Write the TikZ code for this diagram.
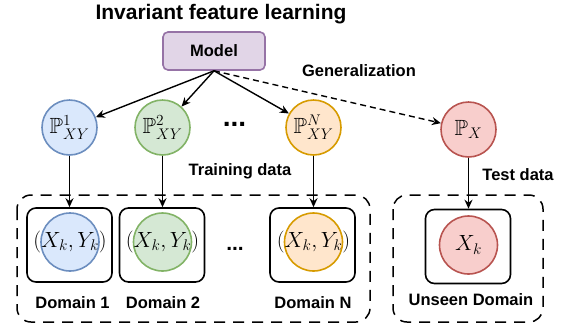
\RequirePackage{fix-cm}
\documentclass[tikz,border=0pt]{standalone}
\usepackage{amssymb}
\usepackage[no-math]{fontspec}
\setmainfont{Liberation Sans}
\usetikzlibrary{arrows.meta}
\definecolor{bluef}{HTML}{DAE8FC}\definecolor{blued}{HTML}{6C8EBF}
\definecolor{greenf}{HTML}{D5E8D4}\definecolor{greend}{HTML}{82B366}
\definecolor{orangef}{HTML}{FFE6CC}\definecolor{oranged}{HTML}{D79B00}
\definecolor{redf}{HTML}{F8CECC}\definecolor{redd}{HTML}{B85450}
\definecolor{purplef}{HTML}{E1D5E7}\definecolor{purpled}{HTML}{9673A6}
\tikzset{
  lbl/.style={font=\fontsize{16.5}{18}\selectfont\bfseries, inner sep=0pt},
  dist/.style={circle, line width=1.6pt, minimum size=55pt, inner sep=0pt, font=\fontsize{22}{26}\selectfont},
  dombox/.style={draw=black, line width=1.6pt, rounded corners=9pt, minimum width=85pt, minimum height=74pt, inner sep=0pt},
  inner/.style={circle, line width=1.6pt, minimum size=58pt, inner sep=0pt},
  mtext/.style={inner sep=0pt, font=\fontsize{22}{26}\selectfont},
  arr/.style={line width=1.4pt, -{Stealth[length=9pt,width=8pt]}},
  bigdash/.style={draw=black, line width=1.5pt, rounded corners=14pt, dash pattern=on 11pt off 8pt},
}
\begin{document}
\begin{tikzpicture}[x=1pt,y=-1pt]
\useasboundingbox (0,0) rectangle (576,325);
% dashed group boxes
\draw[bigdash] (17,195) rectangle (370,322);
\draw[bigdash] (393,195) rectangle (543,322);
% title
\node[lbl, font=\fontsize{21}{24}\selectfont\bfseries] (title) at (221,14) {Invariant feature learning};
% model
\node[draw=purpled, fill=purplef, line width=1.6pt, rounded corners=5pt, minimum width=102pt, minimum height=38pt, inner sep=0pt, font=\fontsize{16.5}{18}\selectfont\bfseries] (model) at (214,51) {Model};
% distributions
\node[dist, draw=blued, fill=bluef] (p1) at (69.5,127.5) {$\mathbb{P}^1_{XY}$};
\node[dist, draw=greend, fill=greenf] (p2) at (162.5,127.5) {$\mathbb{P}^2_{XY}$};
\node[dist, draw=oranged, fill=orangef] (pn) at (313.5,127.5) {$\mathbb{P}^N_{XY}$};
\node[dist, draw=redd, fill=redf] (px) at (468.5,129.5) {$\mathbb{P}_X$};
\node[lbl, font=\fontsize{28}{30}\selectfont\bfseries] (dots1) at (234.5,124) {...};
% domain boxes
\node[dombox] (b1) at (69.5,245) {};
\node[dombox] (b2) at (162,245) {};
\node[dombox] (bn) at (312.5,245) {};
\node[dombox] (bx) at (468,246.5) {};
\node[inner, draw=blued, fill=bluef] (c1) at (70,242) {};
\node[inner, draw=greend, fill=greenf] (c2) at (162.5,242) {};
\node[inner, draw=oranged, fill=orangef] (cn) at (313.5,242) {};
\node[inner, draw=redd, fill=redf] (cx) at (468.5,245) {};
\node[mtext] (t1) at (c1) {$(X_k,Y_k)$};
\node[mtext] (t2) at (c2) {$(X_k,Y_k)$};
\node[mtext] (tn) at (cn) {$(X_k,Y_k)$};
\node[mtext] (tx) at (cx) {$X_k$};
\node[lbl, font=\fontsize{21}{24}\selectfont\bfseries] (dots2) at (235,249) {...};
% labels
\node[lbl] (d1) at (72.5,303) {Domain 1};
\node[lbl] (d2) at (163,303) {Domain 2};
\node[lbl] (dn) at (313,303) {Domain N};
\node[lbl] (dx) at (471,300) {Unseen Domain};
\node[lbl] (gen) at (359,71) {Generalization};
\node[lbl] (train) at (240,171) {Training data};
\node[lbl] (test) at (518,175) {Test data};
% arrows
\draw[arr] (model.south) -- (p1);
\draw[arr] (model.south) -- (p2);
\draw[arr] (model.south) -- (pn);
\draw[arr, dash pattern=on 6pt off 4pt] (model.south) -- (px);
\draw[arr] (p1.south) -- (b1.north);
\draw[arr] (p2.south) -- (p2.south |- b2.north);
\draw[arr] (pn.south) -- (pn.south |- bn.north);
\draw[arr] (px.south) -- (px.south |- bx.north);
\end{tikzpicture}
\end{document}
